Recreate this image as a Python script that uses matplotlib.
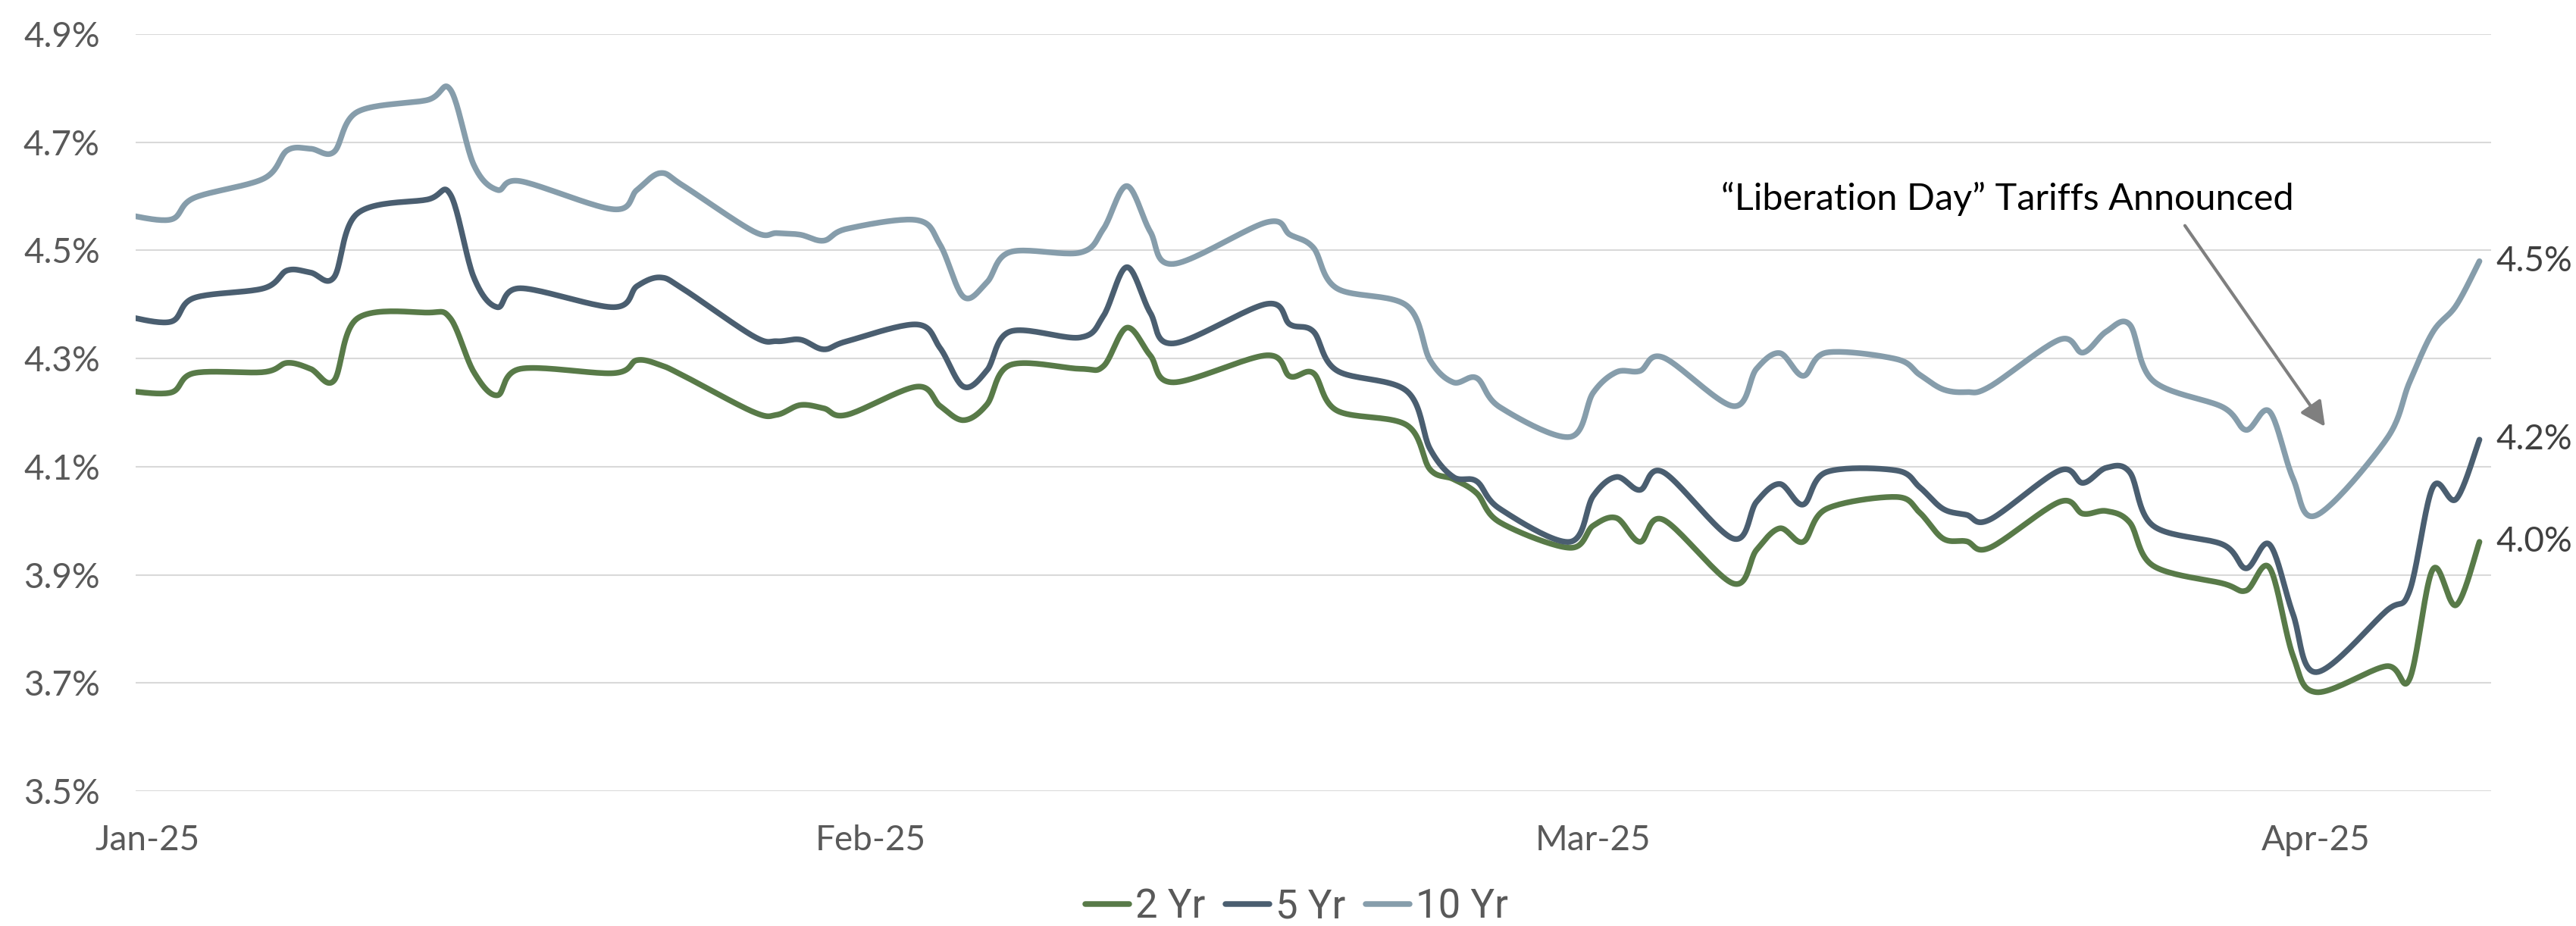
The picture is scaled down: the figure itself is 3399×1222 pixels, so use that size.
import numpy as np
import pandas as pd
import matplotlib
matplotlib.use("Agg")
import matplotlib.pyplot as plt
import matplotlib.dates as mdates

# treasury yields (%)
dates = [
    "2024-12-31",
    "2025-01-02", "2025-01-03", "2025-01-06", "2025-01-07", "2025-01-08", "2025-01-09", "2025-01-10",
    "2025-01-13", "2025-01-14", "2025-01-15", "2025-01-16", "2025-01-17",
    "2025-01-21", "2025-01-22", "2025-01-23", "2025-01-24",
    "2025-01-27", "2025-01-28", "2025-01-29", "2025-01-30", "2025-01-31",
    "2025-02-03", "2025-02-04", "2025-02-05", "2025-02-06", "2025-02-07",
    "2025-02-10", "2025-02-11", "2025-02-12", "2025-02-13", "2025-02-14",
    "2025-02-18", "2025-02-19", "2025-02-20", "2025-02-21",
    "2025-02-24", "2025-02-25", "2025-02-26", "2025-02-27", "2025-02-28",
    "2025-03-03", "2025-03-04", "2025-03-05", "2025-03-06", "2025-03-07",
    "2025-03-10", "2025-03-11", "2025-03-12", "2025-03-13", "2025-03-14",
    "2025-03-17", "2025-03-18", "2025-03-19", "2025-03-20", "2025-03-21",
    "2025-03-24", "2025-03-25", "2025-03-26", "2025-03-27", "2025-03-28",
    "2025-03-31", "2025-04-01", "2025-04-02", "2025-04-03", "2025-04-04",
    "2025-04-07", "2025-04-08", "2025-04-09", "2025-04-10", "2025-04-11",
]

two_yr = [
    4.241,
    4.237, 4.273, 4.275, 4.292, 4.281, 4.259, 4.374,
    4.385, 4.374, 4.275, 4.232, 4.281,
    4.273, 4.297, 4.288, 4.268,
    4.201, 4.196, 4.214, 4.208, 4.196,
    4.248, 4.212, 4.186, 4.215, 4.288,
    4.281, 4.286, 4.357, 4.306, 4.256,
    4.306, 4.267, 4.273, 4.204,
    4.177, 4.095, 4.077, 4.051, 3.997,
    3.950, 3.991, 4.005, 3.961, 4.002,
    3.884, 3.946, 3.986, 3.961, 4.022,
    4.044, 4.015, 3.967, 3.962, 3.950,
    4.035, 4.013, 4.018, 3.997, 3.917,
    3.884, 3.871, 3.913, 3.751, 3.683,
    3.731, 3.707, 3.910, 3.844, 3.961,
]

five_yr = [
    4.379,
    4.368, 4.412, 4.430, 4.463, 4.459, 4.450, 4.568,
    4.594, 4.603, 4.450, 4.395, 4.430,
    4.395, 4.434, 4.450, 4.428,
    4.341, 4.332, 4.335, 4.317, 4.332,
    4.363, 4.319, 4.248, 4.278, 4.350,
    4.339, 4.379, 4.469, 4.385, 4.328,
    4.401, 4.363, 4.350, 4.278,
    4.240, 4.133, 4.081, 4.073, 4.022,
    3.961, 4.046, 4.081, 4.057, 4.090,
    3.967, 4.035, 4.068, 4.030, 4.090,
    4.093, 4.062, 4.022, 4.011, 4.002,
    4.093, 4.070, 4.098, 4.090, 3.991,
    3.956, 3.912, 3.956, 3.828, 3.720,
    3.833, 3.870, 4.062, 4.040, 4.150,
]

ten_yr = [
    4.567,
    4.557, 4.597, 4.633, 4.685, 4.688, 4.682, 4.756,
    4.778, 4.797, 4.658, 4.612, 4.628,
    4.576, 4.612, 4.643, 4.619,
    4.535, 4.532, 4.529, 4.518, 4.540,
    4.556, 4.510, 4.414, 4.441, 4.497,
    4.496, 4.540, 4.619, 4.535, 4.475,
    4.552, 4.529, 4.505, 4.430,
    4.398, 4.297, 4.256, 4.264, 4.210,
    4.155, 4.237, 4.275, 4.277, 4.302,
    4.212, 4.281, 4.310, 4.268, 4.311,
    4.299, 4.270, 4.243, 4.238, 4.248,
    4.335, 4.311, 4.350, 4.363, 4.259,
    4.210, 4.168, 4.202, 4.079, 4.010,
    4.150, 4.256, 4.349, 4.398, 4.480,
]

names = ["2 Yr", "5 Yr", "10 Yr"]
colors = ["#587A48", "#4A5E70", "#869DAB"]
y_ticks = [3.5, 3.7, 3.9, 4.1, 4.3, 4.5, 4.7, 4.9]
x_ticks = ["2025-01-01", "2025-02-01", "2025-03-04", "2025-04-04"]
note = "\u201cLiberation Day\u201d Tariffs Announced"

tick_font = ["Lato", "DejaVu Sans"]
legend_font = ["Liberation Sans Narrow", "Roboto", "DejaVu Sans"]
grey = "#595959"


def excel_smooth(x, y, steps=24):
    # bezier through each point, handles from the neighbours (Excel "smoothed line")
    p = np.column_stack([x, y]).astype(float)
    pad = np.vstack([p[:1], p, p[-1:]])
    t = np.linspace(0, 1, steps)[:, None]
    pieces = []
    for i in range(len(p) - 1):
        p0, p3 = p[i], p[i + 1]
        c1 = p0 + (pad[i + 2] - pad[i]) / 6
        c2 = p3 - (pad[i + 3] - pad[i + 1]) / 6
        seg = (1 - t) ** 3 * p0 + 3 * (1 - t) ** 2 * t * c1 + 3 * (1 - t) * t ** 2 * c2 + t ** 3 * p3
        pieces.append(seg if i == 0 else seg[1:])
    out = np.vstack(pieces)
    return out[:, 0], out[:, 1]


fig = plt.figure(figsize=(33.99, 12.22), dpi=100)
ax = fig.add_axes([179 / 3399, 1 - 1044 / 1222, 3108 / 3399, 999 / 1222])

x = mdates.date2num(pd.to_datetime(dates))
for vals, name, c in zip([two_yr, five_yr, ten_yr], names, colors):
    sx, sy = excel_smooth(x, vals)
    ax.plot(sx, sy, color=c, lw=5.4, label=name,
            solid_capstyle="round", solid_joinstyle="round")
    ax.annotate(f"{vals[-1]:.1f}%", xy=(x[-1], vals[-1]), xytext=(16, 0),
                textcoords="offset points", ha="left", va="center",
                fontsize=33, color="#404040", family=tick_font,
                annotation_clip=False)

ax.set_xlim(mdates.date2num(pd.Timestamp("2024-12-31")) + 0.5,
            mdates.date2num(pd.Timestamp("2025-04-11")) + 0.5)
ax.set_ylim(3.5, 4.9)

ax.set_yticks(y_ticks)
ax.set_yticklabels([f"{v:.1f}%" for v in y_ticks])
ax.set_xticks(mdates.date2num(pd.to_datetime(x_ticks)))
ax.xaxis.set_major_formatter(mdates.DateFormatter("%b-%y"))

ax.grid(axis="y", color="#D9D9D9", lw=1.5)
ax.set_axisbelow(True)
for s in ax.spines.values():
    s.set_visible(False)
ax.tick_params(axis="both", length=0, labelsize=33, labelcolor=grey)
ax.tick_params(axis="y", pad=34)
ax.tick_params(axis="x", pad=32)
for lab in ax.get_xticklabels() + ax.get_yticklabels():
    lab.set_family(tick_font)

# annotation for April 2
ax.annotate("", xy=(0.9295, 0.4815), xytext=(0.870, 0.747),
            xycoords="axes fraction", textcoords="axes fraction",
            arrowprops=dict(arrowstyle="-|>,head_length=0.9,head_width=0.45",
                            mutation_scale=22, lw=3, color="#7F7F7F",
                            shrinkA=0, shrinkB=0))
ax.text(0.673, 0.782, note, transform=ax.transAxes, ha="left", va="center",
        fontsize=35, color="black", family=tick_font)

fig.legend(loc="center", bbox_to_anchor=(0.5034, 0.0205), ncol=3, frameon=False,
           prop={"family": legend_font, "size": 38}, labelcolor=grey,
           handlelength=1.1, handletextpad=0.15, columnspacing=0.5)

fig.savefig("out.png", dpi=100)
